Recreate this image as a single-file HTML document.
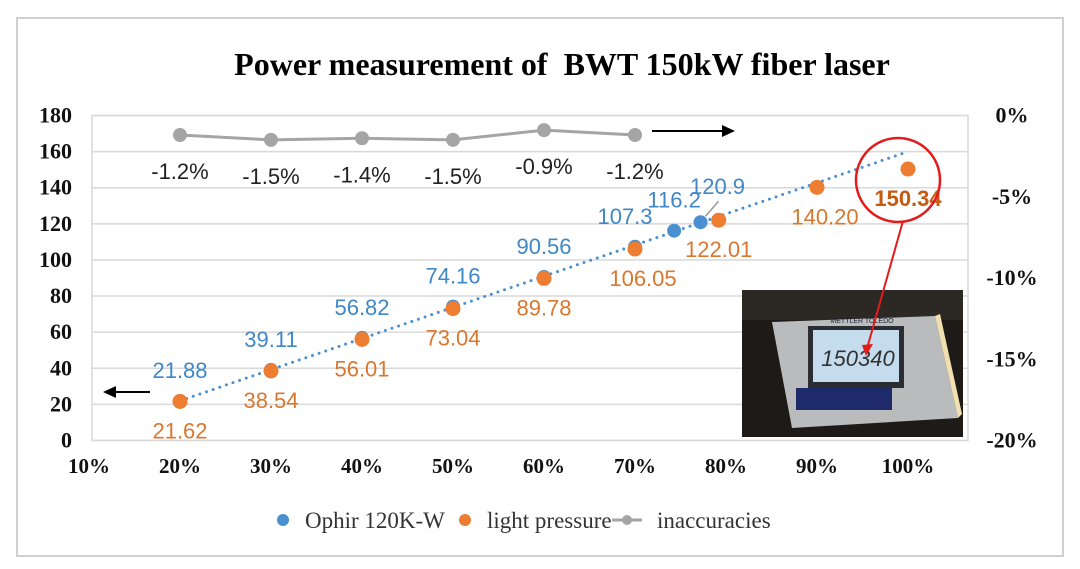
<!DOCTYPE html>
<html><head><meta charset="utf-8"><style>
html,body{margin:0;padding:0;background:#fff;}
svg{display:block;}
.ax{font-family:"Liberation Serif",serif;font-weight:bold;font-size:22px;fill:#111;}
.axx{font-family:"Liberation Serif",serif;font-weight:bold;font-size:21px;fill:#111;}
.lb{font-family:"Liberation Sans","DejaVu Sans",sans-serif;font-size:22px;}
</style></head><body>
<svg id="chart" width="1080" height="569" viewBox="0 0 1080 569" xmlns="http://www.w3.org/2000/svg">
<rect x="17" y="18" width="1046" height="538" fill="#fff" stroke="#cfcfcf" stroke-width="2"/>
<text x="562" y="75" text-anchor="middle" font-family="Liberation Serif,serif" font-weight="bold" font-size="32" fill="#000">Power measurement of&#160; BWT 150kW fiber laser</text>
<g id="grid"></g><g id="axes"></g><g id="series"></g><g id="labels"></g>
<g>
<rect x="742" y="290" width="221" height="147" fill="#1e1a17"/>
<rect x="742" y="290" width="221" height="30" fill="#2c2824"/>
<polygon points="772,322 935,316 958,418 792,428" fill="#b9bbbd"/>
<rect x="808" y="326" width="96" height="62" fill="#2b2d33"/>
<rect x="813" y="330" width="86" height="52" fill="#c4dcee"/>
<rect x="796" y="388" width="96" height="22" fill="#1f2a6b"/>
<polygon points="935,316 958,418 962,414 940,314" fill="#f0e0b0"/>
<text x="858" y="366" text-anchor="middle" font-family="Liberation Sans,sans-serif" font-style="italic" font-size="22" fill="#333">150340</text>
<text x="862" y="323" text-anchor="middle" font-family="Liberation Sans,sans-serif" font-size="7" fill="#223">METTLER TOLEDO</text>
</g>
<g id="anno">
<line x1="903" y1="221" x2="868" y2="345" stroke="#e31b1b" stroke-width="2"/>
<polygon points="862,345 873,344 866,356" fill="#e31b1b"/>
</g>
<g><line x1="150" y1="392" x2="112" y2="392" stroke="#000" stroke-width="2"/><polygon points="103,392 116,386 116,398" fill="#000"/></g>
<g><line x1="652" y1="131" x2="724" y2="131" stroke="#000" stroke-width="2"/><polygon points="735,131 722,125 722,137" fill="#000"/></g>
<g>
<circle cx="283" cy="520" r="6" fill="#4a90d0"/>
<text x="305" y="528" font-family="Liberation Serif,serif" font-size="23" fill="#333">Ophir 120K-W</text>
<circle cx="465" cy="520" r="6" fill="#ed7d31"/>
<text x="487" y="528" font-family="Liberation Serif,serif" font-size="23" fill="#333">light pressure</text>
<line x1="612" y1="520" x2="642" y2="520" stroke="#a5a5a5" stroke-width="3"/>
<circle cx="627" cy="520" r="5" fill="#a5a5a5"/>
<text x="657" y="528" font-family="Liberation Serif,serif" font-size="23" fill="#333">inaccuracies</text>
</g>
<circle cx="898" cy="180" r="42" fill="none" stroke="#e31b1b" stroke-width="2.5"/>
</svg>
<script>
const xTicks=[10,20,30,40,50,60,70,80,90,100];
const yTicks=[0,20,40,60,80,100,120,140,160,180];
const y2Ticks=[0,-5,-10,-15,-20];
const ophirX=[20,30,40,50,60,70,74.3,77.2];
const ophirY=[21.88,39.11,56.82,74.16,90.56,107.3,116.2,120.9];
const ophirLabels=["21.88","39.11","56.82","74.16","90.56","107.3","116.2","120.9"];
const pressX=[20,30,40,50,60,70,79.2,90,100];
const pressY=[21.62,38.54,56.01,73.04,89.78,106.05,122.01,140.20,150.34];
const pressLabels=["21.62","38.54","56.01","73.04","89.78","106.05","122.01","140.20","150.34"];
const inaccX=[20,30,40,50,60,70];
const inaccY=[-1.2,-1.5,-1.4,-1.5,-0.9,-1.2];
const inaccLabels=["-1.2%","-1.5%","-1.4%","-1.5%","-0.9%","-1.2%"];

const NS="http://www.w3.org/2000/svg";
const X0=89,X1=908,Y0=440.5,Y1=115.5;
const xs=v=>X0+(v-10)/90*(X1-X0);
const ys=v=>Y0+(v-0)/180*(Y1-Y0);
const y2s=v=>Y1+(v-0)/(-20)*(Y0-Y1);
function mk(tag,attrs,parent){const e=document.createElementNS(NS,tag);for(const k in attrs)e.setAttribute(k,attrs[k]);parent.appendChild(e);return e;}
const grid=document.getElementById('grid'),axes=document.getElementById('axes'),series=document.getElementById('series'),labels=document.getElementById('labels');
let e=mk('rect',{x:92,y:115.5,width:876,height:325,fill:'none',stroke:'#d9d9d9','stroke-width':1.5},grid);


yTicks.forEach(t=>{
 let g=mk('line',{x1:92,x2:968,y1:ys(t),y2:ys(t),stroke:'#d9d9d9','stroke-width':1.5},grid);
 
 
 let l=mk('text',{x:72,y:ys(t)+7,'text-anchor':'end',class:'ax'},axes);l.textContent=t;
 
 
});
y2Ticks.forEach(t=>{
 let l=mk('text',{x:1012,y:y2s(t)+7,'text-anchor':'middle',class:'ax'},axes);l.textContent=t+'%';
 
 
});
xTicks.forEach(t=>{
 let l=mk('text',{x:xs(t),y:473,'text-anchor':'middle',class:'axx'},axes);l.textContent=t+'%';
 
 
});
const n=ophirX.length,mx=ophirX.reduce((a,b)=>a+b)/n,my=ophirY.reduce((a,b)=>a+b)/n;
let sxy=0,sxx=0;for(let i=0;i<n;i++){sxy+=(ophirX[i]-mx)*(ophirY[i]-my);sxx+=(ophirX[i]-mx)**2;}
const sl=sxy/sxx,ic=my-sl*mx;
e=mk('line',{x1:xs(20),y1:ys(ic+sl*20),x2:xs(100),y2:ys(ic+sl*100),stroke:'#4a90d0','stroke-width':3,'stroke-dasharray':'0 7','stroke-linecap':'round'},series);


e=mk('polyline',{points:inaccX.map((x,i)=>xs(x)+','+y2s(inaccY[i])).join(' '),fill:'none',stroke:'#a5a5a5','stroke-width':3},series);


inaccX.forEach((x,i)=>{
 let c=mk('circle',{cx:xs(x),cy:y2s(inaccY[i]),r:7,fill:'#a5a5a5'},series);
 
 
 let l=mk('text',{x:xs(x),y:y2s(inaccY[i])+44,'text-anchor':'middle',class:'lb',fill:'#222'},labels);l.textContent=inaccLabels[i];
 
 
});
ophirX.forEach((x,i)=>{
 let c=mk('circle',{cx:xs(x),cy:ys(ophirY[i]),r:7,fill:'#4a90d0'},series);
 
 
 const dx=(i==7)?17:(i==5?-10:0),dy=(i==7)?-36:-31;
 let l=mk('text',{x:xs(x)+dx,y:ys(ophirY[i])+dy+8,'text-anchor':'middle',class:'lb',fill:'#3f87c7'},labels);l.textContent=ophirLabels[i];
 
 
});
e=mk('line',{x1:xs(77.2)+5,y1:ys(120.9)-6,x2:xs(77.2)+18,y2:ys(120.9)-21,stroke:'#999','stroke-width':1.5},labels);


pressX.forEach((x,i)=>{
 let c=mk('circle',{cx:xs(x),cy:ys(pressY[i]),r:7.5,fill:'#ed7d31'},series);
 
 
 const dx=(i==5||i==7)?8:0;
 let l=mk('text',{x:xs(x)+dx,y:ys(pressY[i])+29+8,'text-anchor':'middle',class:'lb',fill:'#d9772f'},labels);l.textContent=pressLabels[i];
 if(i==8){l.setAttribute('font-weight','bold');l.setAttribute('fill','#c55a11');}
 
 
});
</script>
</body></html>
